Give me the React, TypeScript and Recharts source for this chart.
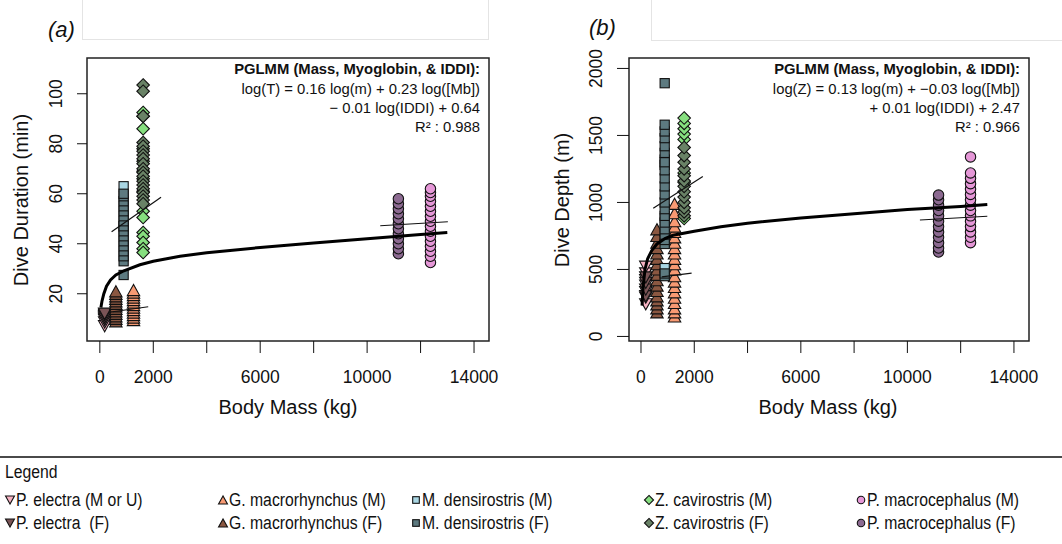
import React from "react";
import { ScatterChart, Scatter, XAxis, YAxis, ReferenceArea } from "recharts";

const X_TICKS = [0, 2000, 4000, 6000, 8000, 10000, 12000, 14000];
const X_LABELED = [0, 2000, 6000, 10000, 14000];
const DUR_TICKS = [20, 40, 60, 80, 100];
const DEPTH_TICKS = [0, 500, 1000, 1500, 2000];

// body mass (kg) used for each group
const MASS_PE = 180;
const MASS_GM_F = 600;
const MASS_MD = 890;
const MASS_GM_M = 1260;
const MASS_ZC = 1620;
const MASS_PM_F = 11170;
const MASS_PM_M = 12370;

// dive duration (min)
const PE_MU_DUR = [7, 8.5, 10, 11];
const PE_F_DUR = [9.5, 10.5, 11.5, 12];
const GM_F_DUR = [9, 10, 11, 12, 13, 14, 15, 16, 17, 18, 19, 20, 21];
const GM_M_DUR = [9.5, 10.5, 11.5, 12.5, 13.5, 14.5, 15.5, 16.5, 17.5, 18.5, 19.5, 20.5, 21.5];
const MD_M_DUR = [63, 47];
const MD_F_DUR = [27.5, 33, 35, 37, 39, 41, 43, 45, 47, 49, 51, 53, 55, 57, 59, 60];
const ZC_M_DUR = [92.5, 91, 86, 78, 73, 69, 66, 61, 53, 50.5, 44.5, 43, 40.5, 38, 36.5];
const ZC_F_DUR = [103.5, 101, 91, 80.5, 79, 77, 75.5, 74, 72, 70, 68.5, 67, 65, 63.5, 62, 60.5, 59, 57.5, 56];
const PM_M_DUR = [32.5, 35, 37, 39, 41, 43, 45, 47, 49, 51, 53, 55, 57, 59, 60.5, 62];
const PM_F_DUR = [36, 38, 40, 42, 44, 46, 48, 50, 52, 54, 56, 58];

// dive depth (m)
const PE_MU_DEP = [240, 290, 330, 380, 420, 470, 520];
const PE_F_DEP = [300, 350, 400, 440];
const GM_F_DEP = [180, 210, 240, 270, 300, 340, 380, 420, 460, 500, 540, 580, 620, 660, 700, 750, 800];
const GM_M_DEP = [150, 180, 210, 250, 290, 330, 370, 410, 450, 500, 540, 580, 620, 660, 700, 740, 780, 820, 860, 920, 990];
const MD_M_DEP = [510, 880, 1280, 1320];
const MD_F_DEP = [450, 470, 690, 720, 760, 800, 850, 900, 950, 1000, 1060, 1120, 1180, 1240, 1300, 1370, 1420, 1480, 1530, 1580, 1890];
const ZC_M_DEP = [880, 1150, 1220, 1470, 1510, 1550, 1590, 1630];
const ZC_F_DEP = [900, 930, 960, 1000, 1040, 1080, 1120, 1160, 1200, 1250, 1300, 1350, 1410];
const PM_M_DEP = [700, 740, 780, 820, 860, 900, 940, 980, 1020, 1060, 1100, 1140, 1180, 1220, 1340];
const PM_F_DEP = [630, 660, 700, 740, 780, 820, 860, 900, 940, 980, 1020, 1055];

// PGLMM fitted curves
const DUR_FIT_MASS = [40, 80, 150, 250, 400, 600, 900, 1500, 2000, 3000, 4000, 6000, 8000, 10000, 12000, 13000];
const DUR_FIT = [14.5, 17, 20, 23, 25.5, 27.5, 29.2, 31.6, 33, 35, 36.4, 38.5, 40.3, 42, 43.7, 44.5];
const DEP_FIT_MASS = [40, 80, 150, 250, 400, 600, 900, 1200, 1600, 2000, 3000, 4000, 6000, 8000, 10000, 12000, 13000];
const DEP_FIT = [230, 370, 500, 580, 640, 690, 730, 755, 770, 785, 818, 845, 884, 915, 948, 970, 984];

// short thin segments
const DUR_SEGS = [
  [[440, 44.8], [2290, 58.6]],
  [[480, 12.8], [1810, 14.8]],
  [[10490, 47.2], [13020, 48.8]],
];
const DEP_SEGS = [
  [[460, 957], [2320, 1193]],
  [[780, 445], [1900, 472]],
  [[10470, 869], [13000, 897]],
];

type Kind = "down" | "up" | "square" | "diamond" | "circle";

const GROUPS: { label: string; kind: Kind; fill: string; mass: number; dur: number[]; dep: number[]; row: number; col: number }[] = [
  { label: "P. electra (M or U)", kind: "down", fill: "#f6b2c2", mass: MASS_PE, dur: PE_MU_DUR, dep: PE_MU_DEP, row: 0, col: 0 },
  { label: "P. electra  (F)", kind: "down", fill: "#7a5456", mass: MASS_PE, dur: PE_F_DUR, dep: PE_F_DEP, row: 1, col: 0 },
  { label: "G. macrorhynchus (M)", kind: "up", fill: "#f89a73", mass: MASS_GM_M, dur: GM_M_DUR, dep: GM_M_DEP, row: 0, col: 1 },
  { label: "G. macrorhynchus (F)", kind: "up", fill: "#8a5741", mass: MASS_GM_F, dur: GM_F_DUR, dep: GM_F_DEP, row: 1, col: 1 },
  { label: "M. densirostris (M)", kind: "square", fill: "#a9d6e3", mass: MASS_MD, dur: MD_M_DUR, dep: MD_M_DEP, row: 0, col: 2 },
  { label: "M. densirostris (F)", kind: "square", fill: "#5d7a80", mass: MASS_MD, dur: MD_F_DUR, dep: MD_F_DEP, row: 1, col: 2 },
  { label: "Z. cavirostris (M)", kind: "diamond", fill: "#86df7f", mass: MASS_ZC, dur: ZC_M_DUR, dep: ZC_M_DEP, row: 0, col: 3 },
  { label: "Z. cavirostris (F)", kind: "diamond", fill: "#698266", mass: MASS_ZC, dur: ZC_F_DUR, dep: ZC_F_DEP, row: 1, col: 3 },
  { label: "P. macrocephalus (M)", kind: "circle", fill: "#e597d7", mass: MASS_PM_M, dur: PM_M_DUR, dep: PM_M_DEP, row: 0, col: 4 },
  { label: "P. macrocephalus (F)", kind: "circle", fill: "#8c6a91", mass: MASS_PM_F, dur: PM_F_DUR, dep: PM_F_DEP, row: 1, col: 4 },
];

const LEGEND_COLS = [4, 217, 410, 643, 855];
const FONT = "'Liberation Sans', Arial, Helvetica, sans-serif";

function marker(kind: Kind, fill: string, cx: number, cy: number, k = 1, key?: string) {
  const sw = 1.1;
  const st = "#111";
  if (kind === "up" || kind === "down") {
    const w = 6.2 * k;
    const h = 5.6 * k;
    const d = kind === "up" ? 1 : -1;
    const p = `${cx},${cy - d * h} ${cx - w},${cy + d * h} ${cx + w},${cy + d * h}`;
    return <polygon key={key} points={p} fill={fill} stroke={st} strokeWidth={sw} />;
  }
  if (kind === "square") {
    const s = 4.6 * k;
    return <rect key={key} x={cx - s} y={cy - s} width={2 * s} height={2 * s} fill={fill} stroke={st} strokeWidth={sw} />;
  }
  if (kind === "diamond") {
    const s = 6.3 * k;
    const p = `${cx},${cy - s} ${cx + s},${cy} ${cx},${cy + s} ${cx - s},${cy}`;
    return <polygon key={key} points={p} fill={fill} stroke={st} strokeWidth={sw} />;
  }
  return <circle key={key} cx={cx} cy={cy} r={5.2 * k} fill={fill} stroke={st} strokeWidth={sw} />;
}

const pts = (mass: number, vals: number[]) => vals.map((v) => ({ m: mass, v }));
const curve = (ms: number[], vs: number[]) => ms.map((m, i) => ({ m, v: vs[i] }));
const noDot = () => <g />;

function Panel(props: {
  left: number;
  marginLeft: number;
  marginRight: number;
  yDomain: [number, number];
  xDomain: [number, number];
  yTicks: number[];
  yTick: number;
  field: "dur" | "dep";
  fitMass: number[];
  fit: number[];
  segs: number[][][];
}) {
  const { left, marginLeft, marginRight, yDomain, xDomain, yTicks, yTick, field, fitMass, fit, segs } = props;
  const XTick = (p: any) => {
    const val = p.payload.value;
    if (!X_LABELED.includes(val)) return <g />;
    return (
      <text x={p.x} y={p.y + 24} textAnchor="middle" dominantBaseline="central" fontSize={17.5} fontFamily={FONT} fill="#111">
        {val}
      </text>
    );
  };
  const YTick = (p: any) => {
    const cx = p.x - 21;
    return (
      <text x={cx} y={p.y} transform={`rotate(-90 ${cx} ${p.y})`} textAnchor="middle" dominantBaseline="central" fontSize={17.5} fontFamily={FONT} fill="#111">
        {p.payload.value}
      </text>
    );
  };
  return (
    <div style={{ position: "absolute", left, top: 0 }}>
      <ScatterChart width={531} height={420} margin={{ top: 58, right: marginRight, left: marginLeft, bottom: 39 }}>
        <XAxis type="number" dataKey="m" domain={xDomain} ticks={X_TICKS} interval={0} allowDataOverflow axisLine={false} tickLine={{ stroke: "#111" }} tickSize={12} tickMargin={0} tick={XTick} height={40} />
        <YAxis type="number" dataKey="v" domain={yDomain} ticks={yTicks} interval={0} allowDataOverflow axisLine={false} tickLine={{ stroke: "#111" }} tickSize={yTick} tickMargin={0} tick={YTick} width={40} />
        {GROUPS.map((g) => (
          <Scatter key={g.label} data={pts(g.mass, g[field])} isAnimationActive={false} shape={(p: any) => marker(g.kind, g.fill, p.cx, p.cy)} />
        ))}
        {segs.map((s, i) => (
          <Scatter key={"seg" + i} data={s.map(([m, v]) => ({ m, v }))} isAnimationActive={false} line={{ stroke: "#111", strokeWidth: 1.2 }} shape={noDot} />
        ))}
        <Scatter data={curve(fitMass, fit)} isAnimationActive={false} line={{ stroke: "#000", strokeWidth: 3 }} shape={noDot} />
        <ReferenceArea x1={xDomain[0]} x2={xDomain[1]} y1={yDomain[0]} y2={yDomain[1]} fill="none" stroke="#222" strokeWidth={1.5} ifOverflow="visible" />
      </ScatterChart>
    </div>
  );
}

const abs = (o: React.CSSProperties): React.CSSProperties => ({ position: "absolute", whiteSpace: "pre", ...o });

function Annot({ right, lines }: { right: number; lines: string[] }) {
  const ys = [69, 89, 108, 127];
  return (
    <>
      {lines.map((t, i) => (
        <div key={i} style={abs({ right: 1062 - right, top: ys[i] - 9, lineHeight: "18px", fontSize: 14.8, fontWeight: i === 0 ? 700 : 400, textAlign: "right", color: "#111" })}>
          {t}
        </div>
      ))}
    </>
  );
}

function RotLabel({ cx, cy, text }: { cx: number; cy: number; text: string }) {
  return (
    <div style={abs({ left: cx - 150, top: cy - 12, width: 300, height: 24, lineHeight: "24px", textAlign: "center", fontSize: 20, transform: "rotate(-90deg)", color: "#111" })}>
      {text}
    </div>
  );
}

export default function App() {
  return (
    <div style={{ position: "absolute", left: 0, top: 0, width: 1062, height: 544, background: "#fff", fontFamily: FONT, overflow: "hidden" }}>
      {/* faint frame lines at the top */}
      <div style={abs({ left: 82, top: 0, width: 405, height: 39, borderLeft: "1px solid #e4e4e4", borderRight: "1px solid #e4e4e4", borderBottom: "1px solid #e4e4e4" })} />
      <div style={abs({ left: 651, top: 0, width: 420, height: 40, borderLeft: "1px solid #e4e4e4", borderBottom: "1px solid #e4e4e4" })} />

      <div style={abs({ left: 48, top: 17, fontSize: 22, fontStyle: "italic", color: "#111" })}>(a)</div>
      <div style={abs({ left: 589, top: 15, fontSize: 22, fontStyle: "italic", color: "#111" })}>(b)</div>

      <Panel left={0} marginLeft={47} marginRight={42} xDomain={[-480, 14560]} yDomain={[1.1, 114.3]} yTicks={DUR_TICKS} yTick={10} field="dur" fitMass={DUR_FIT_MASS} fit={DUR_FIT} segs={DUR_SEGS} />
      <Panel left={531} marginLeft={58} marginRight={33} xDomain={[-450, 14565]} yDomain={[-34, 2078]} yTicks={DEPTH_TICKS} yTick={12} field="dep" fitMass={DEP_FIT_MASS} fit={DEP_FIT} segs={DEP_SEGS} />

      <Annot right={480} lines={["PGLMM (Mass, Myoglobin, & IDDI):", "log(T) = 0.16 log(m) + 0.23 log([Mb])", "\u2212 0.01 log(IDDI) + 0.64", "R\u00b2 : 0.988"]} />
      <Annot right={1020} lines={["PGLMM (Mass, Myoglobin, & IDDI):", "log(Z) = 0.13 log(m) + \u22120.03 log([Mb])", "+ 0.01 log(IDDI) + 2.47", "R\u00b2 : 0.966"]} />

      <RotLabel cx={21} cy={200} text="Dive Duration (min)" />
      <RotLabel cx={562} cy={200} text="Dive Depth (m)" />
      <div style={abs({ left: 188, top: 396, width: 200, textAlign: "center", fontSize: 20, color: "#111" })}>Body Mass (kg)</div>
      <div style={abs({ left: 728, top: 396, width: 200, textAlign: "center", fontSize: 20, color: "#111" })}>Body Mass (kg)</div>

      {/* legend */}
      <div style={abs({ left: 0, top: 456, width: 1062, height: 2, background: "#4a4a4a" })} />
      <div style={abs({ left: 5, top: 461, fontSize: 18, lineHeight: "22px", transform: "scaleX(0.875)", transformOrigin: "left center", color: "#111" })}>Legend</div>
      {GROUPS.map((g) => {
        const x = LEGEND_COLS[g.col];
        const cy = g.row === 0 ? 500 : 523;
        return (
          <div key={g.label}>
            <svg style={abs({ left: x, top: cy - 7, width: 14, height: 14 })} width={14} height={14}>
              {marker(g.kind, g.fill, 6, 7, 0.72)}
            </svg>
            <div style={abs({ left: x + 12, top: cy - 11, fontSize: 18, lineHeight: "22px", transform: "scaleX(0.875)", transformOrigin: "left center", color: "#111" })}>{g.label}</div>
          </div>
        );
      })}
    </div>
  );
}
